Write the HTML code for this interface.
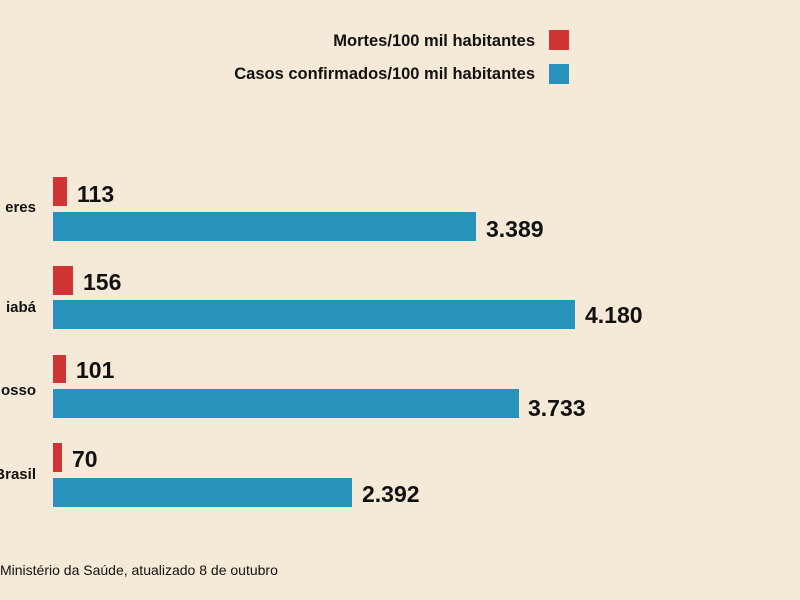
<!DOCTYPE html>
<html><head><meta charset="utf-8"><style>
html,body{margin:0;width:800px;height:600px;overflow:hidden}
body{background:#f5ead7;position:relative;font-family:"Liberation Sans",sans-serif;color:#111}
.a{position:absolute;white-space:nowrap}
.r{background:#d03434;position:absolute}
.b{background:#2793bd;position:absolute}
.v{position:absolute;font-size:23px;font-weight:bold;line-height:22px;white-space:nowrap}
.c{position:absolute;left:0;width:36px;overflow:hidden;font-size:15px;font-weight:bold;line-height:16px;white-space:nowrap;direction:rtl}
.l{position:absolute;right:265px;font-size:16.5px;font-weight:bold;line-height:16px;white-space:nowrap}
</style></head><body>
<div class="l" style="top:33px">Mortes/100 mil habitantes</div>
<div class="r" style="left:549px;top:30px;width:20px;height:20px"></div>
<div class="l" style="top:66px">Casos confirmados/100 mil habitantes</div>
<div class="b" style="left:549px;top:64px;width:20px;height:20px"></div>

<div class="c" style="top:200px">eres</div>
<div class="r" style="left:53px;top:177px;width:14px;height:29px"></div>
<div class="v" style="left:77px;top:183px">113</div>
<div class="b" style="left:53px;top:212px;width:423px;height:29px"></div>
<div class="v" style="left:486px;top:218px">3.389</div>

<div class="c" style="top:300px">iabá</div>
<div class="r" style="left:53px;top:266px;width:20px;height:29px"></div>
<div class="v" style="left:83px;top:271px">156</div>
<div class="b" style="left:53px;top:300px;width:522px;height:29px"></div>
<div class="v" style="left:585px;top:304px">4.180</div>

<div class="c" style="top:383px">osso</div>
<div class="r" style="left:53px;top:355px;width:13px;height:28px"></div>
<div class="v" style="left:76px;top:359px">101</div>
<div class="b" style="left:53px;top:389px;width:466px;height:29px"></div>
<div class="v" style="left:528px;top:397px">3.733</div>

<div class="c" style="top:467px">Brasil</div>
<div class="r" style="left:53px;top:443px;width:9px;height:29px"></div>
<div class="v" style="left:72px;top:448px">70</div>
<div class="b" style="left:53px;top:478px;width:299px;height:29px"></div>
<div class="v" style="left:362px;top:483px">2.392</div>

<div class="a" style="left:0;top:562px;font-size:14px">Ministério da Saúde, atualizado 8 de outubro</div>
</body></html>
